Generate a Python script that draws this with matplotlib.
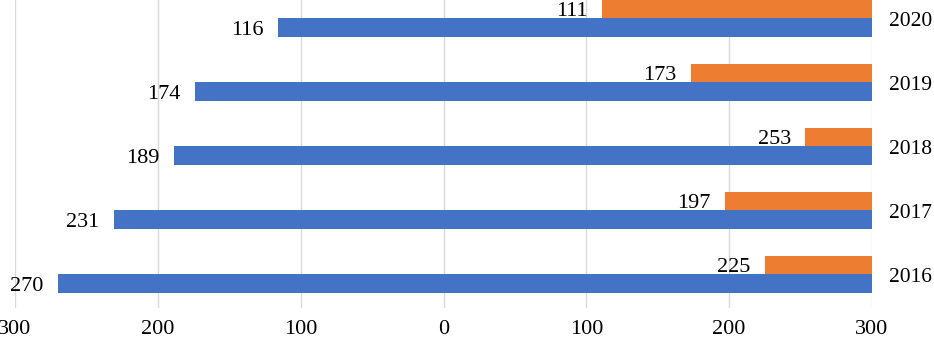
import matplotlib
matplotlib.use("Agg")
import matplotlib.pyplot as plt
import numpy as np

years = ["2016", "2017", "2018", "2019", "2020"]
blue_values = [270, 231, 189, 174, 116]
orange_values = [225, 197, 253, 173, 111]
tick_values = [-300, -200, -100, 0, 100, 200, 300]

BLUE = "#4472C4"
ORANGE = "#ED7D31"
FONT = "Liberation Serif"
FS = 16

fig = plt.figure(figsize=(9.34, 3.4), dpi=100)
W, H = 934, 340
left_px, right_px = 15, 872
bottom_px = 308
ylo, yhi = -0.53, 4.5
unit = 64
ax = fig.add_axes([left_px / W, (H - bottom_px) / H, (right_px - left_px) / W, (yhi - ylo) * unit / H])

y = np.arange(len(years))
bh = 0.29
XMAX = 300

bv = np.array(blue_values)
ov = np.array(orange_values)
ax.barh(y - bh / 2, XMAX + bv, left=-bv, height=bh, color=BLUE, zorder=2)
ax.barh(y + bh / 2, XMAX - ov, left=ov, height=bh, color=ORANGE, zorder=2)

for yi, b, o, yr in zip(y, bv, ov, years):
    ax.annotate(str(b), (-b, yi - bh / 2), xytext=(-14, -3), textcoords="offset pixels",
                ha="right", va="center", fontsize=FS, family=FONT, color="black")
    ax.annotate(str(o), (o, yi + bh / 2), xytext=(-14, -3), textcoords="offset pixels",
                ha="right", va="center", fontsize=FS, family=FONT, color="black")
    ax.annotate(yr, (XMAX, yi), xytext=(17, -3), textcoords="offset pixels",
                ha="left", va="center", fontsize=15.5, family=FONT, color="black",
                annotation_clip=False)

ax.set_xlim(tick_values[0], tick_values[-1])
ax.set_ylim(ylo, yhi)
ax.set_xticks(tick_values)
ax.set_xticklabels([str(abs(t)) for t in tick_values], fontsize=FS, family=FONT)
ax.set_yticks([])
ax.tick_params(axis="x", length=0, pad=9)
ax.grid(axis="x", color="#D9D9D9", linewidth=1, zorder=0)
ax.set_axisbelow(True)
for s in ax.spines.values():
    s.set_visible(False)

fig.savefig("out.png", dpi=100)
